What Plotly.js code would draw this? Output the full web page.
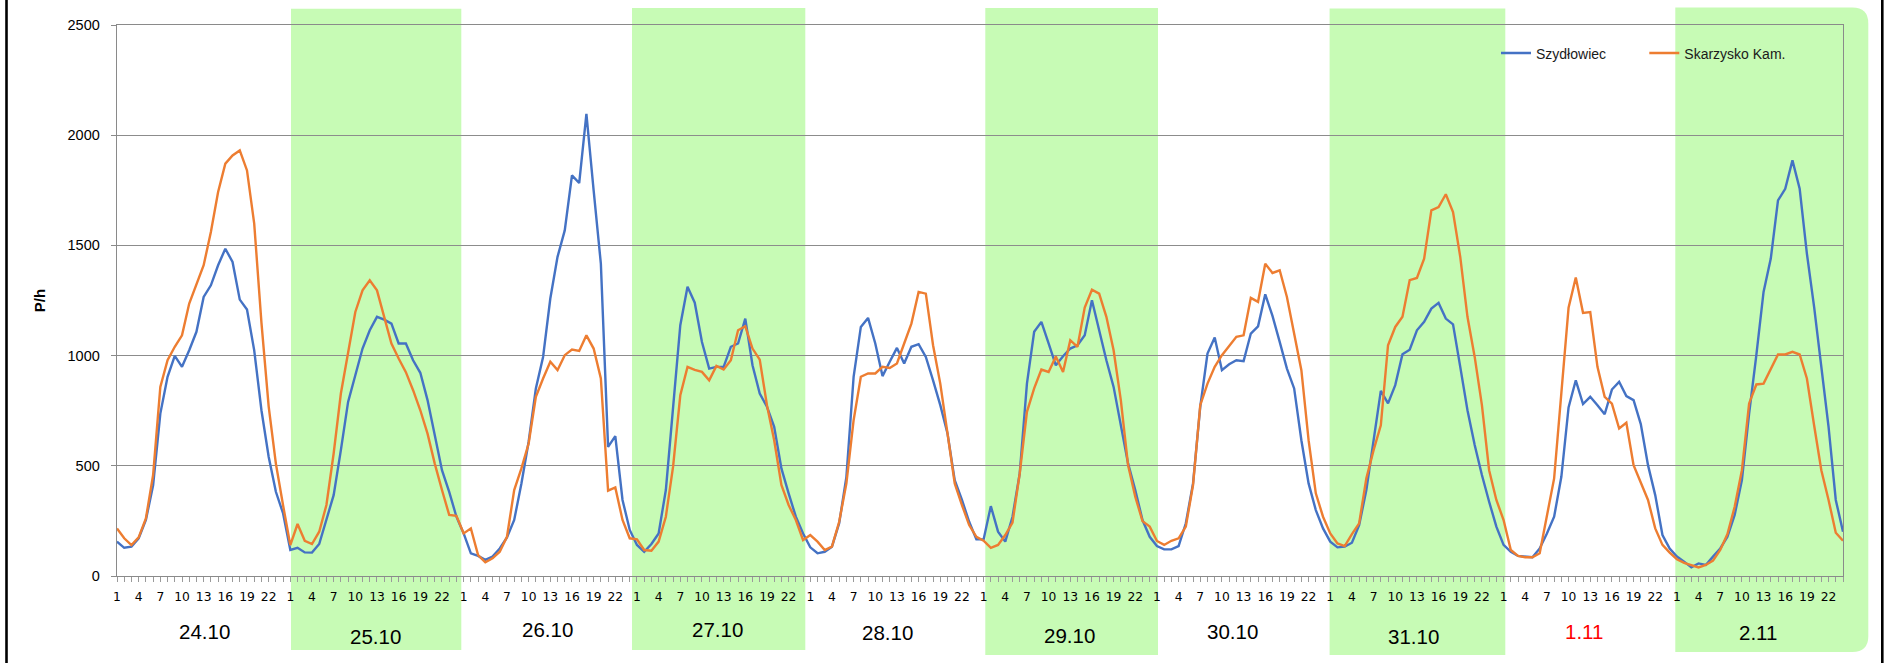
<!DOCTYPE html>
<html>
<head>
<meta charset="utf-8">
<script src="https://cdn.plot.ly/plotly-3.0.1.min.js"></script>
<style>
html,body{margin:0;padding:0;background:#ffffff;}
#chart{width:1884px;height:663px;}
</style>
</head>
<body>
<div id="chart"></div>
<script>
// ---------------- DATA ----------------
const dayLabels = ['24.10','25.10','26.10','27.10','28.10','29.10','30.10','31.10','1.11','2.11'];
const holidayLabel = '1.11';
const hourTickLabels = ['1','4','7','10','13','16','19','22'];
const hoursPerDay = 24;
const seriesNames = ['Szydłowiec','Skarzysko Kam.'];

const szydlowiec = [
  156,128,133,171,254,412,737,904,999,949,1024,1108,1266,1319,1410,1485,1425,1254,1209,1024,752,541,382,284,
  118,128,107,106,145,254,367,571,790,911,1032,1115,1176,1163,1145,1055,1055,979,922,798,639,480,382,269,
  193,103,91,73,88,125,175,254,420,609,851,994,1259,1448,1568,1818,1783,2097,1750,1417,586,635,345,209,
  141,110,145,193,390,760,1138,1312,1240,1062,941,949,949,1040,1055,1168,956,828,768,677,488,375,269,193,
  130,103,110,133,239,450,904,1130,1171,1055,907,972,1035,964,1040,1052,994,888,775,647,435,345,246,166,
  166,317,201,156,269,465,873,1108,1153,1055,956,997,1032,1047,1092,1251,1115,979,858,684,511,390,254,178,
  136,121,121,136,239,420,768,1009,1082,934,961,979,975,1100,1133,1278,1180,1062,941,851,616,420,299,216,
  156,130,133,151,231,390,616,840,783,866,1006,1027,1115,1153,1213,1239,1168,1142,949,752,594,458,337,224,
  141,110,91,88,85,125,193,269,450,765,888,780,813,775,734,846,881,816,798,689,503,367,186,125,
  88,65,39,57,50,88,125,178,277,435,737,1002,1289,1440,1704,1757,1886,1757,1463,1221,956,677,345,201
];

const skarzysko = [
  216,171,140,175,261,458,858,979,1040,1092,1236,1327,1410,1561,1742,1871,1908,1931,1840,1599,1150,770,510,320,
  140,236,160,145,201,322,556,828,1009,1198,1296,1342,1296,1176,1055,987,925,843,752,646,510,390,277,273,
  193,216,95,62,80,110,178,390,488,601,813,896,972,934,1002,1027,1021,1092,1032,896,387,402,254,171,
  166,118,115,156,269,496,820,949,935,926,888,953,937,979,1115,1133,1032,982,775,616,413,322,254,163,
  186,156,118,133,246,420,707,904,919,919,949,944,964,1055,1145,1289,1281,1047,873,647,420,322,231,178,
  160,128,141,186,242,465,745,851,937,926,996,926,1070,1040,1218,1299,1281,1176,1024,798,503,360,249,224,
  159,141,160,171,224,413,775,873,949,1002,1043,1085,1092,1262,1244,1417,1375,1387,1266,1100,934,616,375,269,
  193,148,136,190,239,443,571,684,1047,1130,1176,1342,1352,1440,1659,1674,1732,1651,1448,1176,994,775,480,345,
  254,118,91,85,85,103,269,443,830,1217,1354,1194,1198,949,813,782,669,695,503,428,345,216,141,106,
  76,60,50,39,50,70,118,190,314,480,783,869,873,941,1005,1005,1017,1005,896,684,480,345,196,160
];

// ---------------- LAYOUT GEOMETRY (pixels) ----------------
const W = 1884, H = 663;
const L = 116.7, R = 1842.7, T = 24.5, B = 576;
const pxX = X => (X - L) / (R - L);
const pxY = Y => (B - Y) / (B - T);

// shaded (weekend/holiday style) bands: [x0, x1, yTop, yBottom] in pixels
const bands = [
  [290.7, 461, 8.3, 650],
  [631.7, 805, 7.5, 650],
  [985, 1157.7, 7.5, 655],
  [1329.3, 1505, 8, 655]
];
const lastBand = [1675, 1868, 7, 652];
const bandColor = '#c7fbb5';

// day label centres in pixels
const dayLabelPos = [
  [204,632],[375,637],[547,630],[717,630],[887,633],
  [1069,636],[1232,632],[1413,637],[1584,632],[1758,633]
];

// ---------------- BUILD ----------------
const nPts = szydlowiec.length;
const xs = szydlowiec.map((_, i) => i);

const tickvals = [], ticktext = [];
for (let d = 0; d < dayLabels.length; d++) {
  hourTickLabels.forEach(h => {
    tickvals.push(d * hoursPerDay + (parseInt(h, 10) - 1));
    ticktext.push(h);
  });
}

const shapes = [];
bands.forEach(b => {
  shapes.push({type:'rect', xref:'paper', yref:'paper', layer:'below',
    x0:pxX(b[0]), x1:pxX(b[1]), y0:pxY(b[3]), y1:pxY(b[2]),
    fillcolor:bandColor, line:{width:0}});
});
{
  const x0 = pxX(lastBand[0]), x1 = pxX(lastBand[1]);
  const yT = pxY(lastBand[2]), yB = pxY(lastBand[3]);
  const rx = 16 / (R - L), ry = 16 / (B - T);
  const path = `M${x0},${yT} L${x1 - rx},${yT} Q${x1},${yT} ${x1},${yT - ry} L${x1},${yB + ry} Q${x1},${yB} ${x1 - rx},${yB} L${x0},${yB} Z`;
  shapes.push({type:'path', xref:'paper', yref:'paper', layer:'below', path:path,
    fillcolor:bandColor, line:{width:0}});
}
// black frame bars left / right
[6.2, 1882].forEach(X => {
  shapes.push({type:'line', xref:'paper', yref:'paper', layer:'above',
    x0:pxX(X), x1:pxX(X), y0:pxY(H + 5), y1:pxY(-5),
    line:{color:'#000000', width:2.6}});
});

const annotations = dayLabels.map((lab, i) => ({
  xref:'paper', yref:'paper', x:pxX(dayLabelPos[i][0]), y:pxY(dayLabelPos[i][1]),
  xanchor:'center', yanchor:'middle', showarrow:false, text:lab,
  font:{family:'Liberation Sans, Arial, sans-serif', size:20.5,
        color: lab === holidayLabel ? '#ff0000' : '#000000'}
}));

const traces = [
  {x:xs, y:szydlowiec, type:'scatter', mode:'lines', name:seriesNames[0],
   line:{color:'#4472c4', width:2.4}, legend:'legend'},
  {x:xs, y:skarzysko, type:'scatter', mode:'lines', name:seriesNames[1],
   line:{color:'#ed7d31', width:2.4}, legend:'legend2'}
];

const legendCommon = {
  orientation:'v', yanchor:'middle', xanchor:'left', bgcolor:'rgba(0,0,0,0)',
  borderwidth:0, font:{family:'Liberation Sans, Arial, sans-serif', size:14, color:'#1a1a1a'},
  tracegroupgap:0, itemwidth:30
};

const layout = {
  width:W, height:H,
  margin:{l:L, r:W - R, t:T, b:H - B, pad:0, autoexpand:false},
  paper_bgcolor:'#ffffff', plot_bgcolor:'rgba(0,0,0,0)',
  showlegend:true,
  legend:Object.assign({}, legendCommon, {x:pxX(1500.7 - 5), y:pxY(53)}),
  legend2:Object.assign({}, legendCommon, {x:pxX(1649 - 5), y:pxY(53)}),
  xaxis:{
    range:[0, nPts - 1], type:'linear', autorange:false,
    tickmode:'array', tickvals:tickvals, ticktext:ticktext,
    ticks:'outside', ticklen:5, tickcolor:'#9a9a9a', tickwidth:1,
    minor:{dtick:1, tick0:0, ticks:'outside', ticklen:5, tickcolor:'#9a9a9a', tickwidth:1, showgrid:false},
    showgrid:false, zeroline:false,
    showline:true, linecolor:'#8a8a8a', linewidth:1.3, mirror:true,
    tickfont:{family:'DejaVu Sans, sans-serif', size:12.3, color:'#000000'},
    ticklabelstandoff:4, automargin:false, fixedrange:true
  },
  yaxis:{
    range:[0, 2500], autorange:false, tickmode:'linear', tick0:0, dtick:500,
    ticks:'outside', ticklen:5, tickcolor:'#8a8a8a', tickwidth:1,
    showgrid:true, gridcolor:'#8c8c8c', gridwidth:1.1, zeroline:false,
    showline:true, linecolor:'#8a8a8a', linewidth:1.3, mirror:true,
    tickfont:{family:'Liberation Sans, Arial, sans-serif', size:14.5, color:'#000000'},
    ticklabelstandoff:8,
    title:{text:'<b>P/h</b>', standoff:18, font:{family:'Liberation Sans, Arial, sans-serif', size:15, color:'#000000'}},
    automargin:false, fixedrange:true
  },
  shapes:shapes,
  annotations:annotations
};

Plotly.newPlot('chart', traces, layout, {displayModeBar:false, staticPlot:true});
</script>
</body>
</html>
